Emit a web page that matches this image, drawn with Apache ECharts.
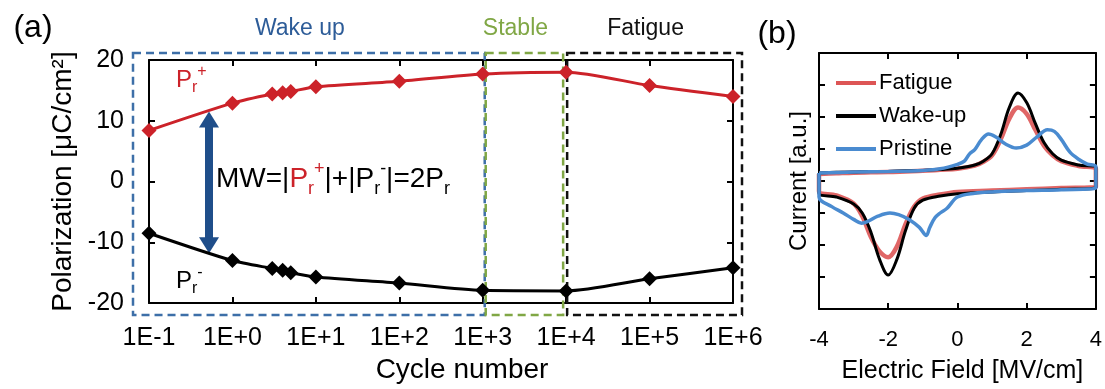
<!DOCTYPE html>
<html><head><meta charset="utf-8">
<script src="https://cdn.jsdelivr.net/npm/echarts@6/dist/echarts.min.js"></script>
<style>html,body{margin:0;padding:0;background:#fff}#c{width:1105px;height:389px}</style>
</head><body><div id="c"></div>
<script>
// ---------- Panel (a) data ----------
const cycles  = [0.1, 1, 3, 4, 5, 10, 100, 1000, 10000, 100000, 1000000];
const prPlus  = [8.4, 12.9, 14.4, 14.6, 14.8, 15.6, 16.5, 17.7, 18.0, 15.8, 14.0];
const prMinus = [-8.5, -13.0, -14.3, -14.6, -15.0, -15.7, -16.7, -17.9, -18.0, -16.0, -14.2];
const phaseNames = ['Wake up', 'Stable', 'Fatigue'];
const phaseStart = [0.1, 1e3, 1e4];
const phaseEnd   = [1e3, 1e4, 1e6];
const arrowCycle = 0.524;
const arrowTop = 10.2;
const arrowBottom = -10.5;

// ---------- Panel (b) data ----------
const wakeE = [-4,-3.5,-3,-2.5,-2,-1.5,-1,-0.5,0,0.5,0.75,1,1.25,1.5,1.75,2,2.25,2.5,2.75,3,3.5,4,
               4,3,2,1,0,-0.5,-1,-1.25,-1.5,-1.75,-2,-2.25,-2.5,-2.75,-3,-3.5,-4,-4];
const wakeI = [0.25,0.27,0.28,0.3,0.3,0.32,0.33,0.36,0.4,0.5,0.62,0.85,1.45,2.3,2.75,2.45,1.8,1.2,0.85,0.65,0.5,0.42,
               -0.2,-0.26,-0.3,-0.34,-0.4,-0.47,-0.6,-0.85,-1.55,-2.45,-2.94,-2.45,-1.6,-1.0,-0.72,-0.5,-0.38,0.25];
const fatigueE = [-4,-3.5,-3,-2.5,-2,-1.5,-1,-0.5,0,0.5,0.75,1,1.25,1.5,1.75,2,2.25,2.5,2.75,3,3.5,4,
                  4,3,2,1,0,-0.5,-1,-1.25,-1.5,-1.75,-2,-2.25,-2.5,-2.75,-3,-3.5,-4,-4];
const fatigueI = [0.22,0.24,0.26,0.27,0.28,0.3,0.32,0.35,0.38,0.48,0.6,0.8,1.3,1.95,2.3,2.1,1.6,1.1,0.8,0.62,0.47,0.38,
                  -0.18,-0.22,-0.26,-0.3,-0.34,-0.42,-0.55,-0.8,-1.35,-2.05,-2.38,-2.2,-1.75,-1.1,-0.7,-0.45,-0.32,0.22];
const pristineE = [-4,-3,-2,-1,-0.5,0,0.2,0.35,0.5,0.7,0.9,1.1,1.4,1.7,2.0,2.3,2.6,2.8,3.0,3.25,3.5,3.75,4,
                   4,3,2,1,0.5,0,-0.3,-0.5,-0.65,-0.8,-0.9,-1.1,-1.4,-1.7,-1.95,-2.3,-2.6,-2.77,-3.0,-3.3,-3.63,-4,-4];
const pristineI = [0.25,0.28,0.3,0.33,0.38,0.52,0.62,0.85,0.98,1.3,1.47,1.38,1.15,1.03,1.12,1.38,1.6,1.55,1.3,0.9,0.68,0.53,0.45,
                   -0.22,-0.27,-0.3,-0.34,-0.38,-0.5,-0.85,-1.0,-1.15,-1.45,-1.7,-1.45,-1.2,-1.05,-1.0,-1.1,-1.27,-1.32,-1.2,-1.0,-0.8,-0.5,0.25];

// ---------- styling ----------
const FONT = '"Liberation Sans", Arial, sans-serif';
const RED = '#cc2229', BLACK = '#000', BLUE_ARROW = '#1f4e8a';
const C_FAT = '#dd5555', C_WAKE = '#000000', C_PRI = '#4a8bd0';
const boxColors = ['#3d6fa8', '#80a745', '#111111'];
const boxTextColors = ['#2d5c98', '#80a745', '#111111'];
const boxPadL = [16, -3, -1], boxPadR = [2, -3, 9];

const lg = v => Math.log10(v);
const pair = (xs, ys) => xs.map((x, i) => [x, ys[i]]);

function frameAxis(extra) {
  return Object.assign({
    axisLine: { show: true, onZero: false, lineStyle: { color: '#000', width: 2 } },
    axisTick: { show: true, inside: true, length: 6, lineStyle: { color: '#000', width: 2 } },
    splitLine: { show: false },
    axisLabel: { show: false }
  }, extra);
}
const tickLabel = (size, margin, fmt) => ({ show: true, color: '#000', fontSize: size, fontFamily: FONT, margin: margin, formatter: fmt });

const option = {
  animation: false,
  backgroundColor: '#fff',
  textStyle: { fontFamily: FONT },
  grid: [
    { left: 149, top: 60, width: 584, height: 249 },
    { left: 819, top: 53, width: 280, height: 256 }
  ],
  xAxis: [
    frameAxis({ gridIndex: 0, type: 'value', position: 'bottom', min: -1, max: 6, interval: 1,
      axisLabel: tickLabel(25, 23, v => '1E' + (v < 0 ? '-' : '+') + Math.abs(Math.round(v))),
      name: 'Cycle number', nameLocation: 'middle', nameGap: 52,
      nameTextStyle: { fontSize: 28, color: '#000', fontFamily: FONT, padding: [0, 0, 0, 42] } }),
    frameAxis({ gridIndex: 0, type: 'value', position: 'top', min: -1, max: 6, interval: 1 }),
    frameAxis({ gridIndex: 1, type: 'value', position: 'bottom', min: -4, max: 4, interval: 2,
      axisLabel: tickLabel(22, 20, v => String(v)),
      name: 'Electric Field [MV/cm]', nameLocation: 'middle', nameGap: 50,
      nameTextStyle: { fontSize: 25, color: '#000', fontFamily: FONT, padding: [0, 0, 0, 10] } }),
    frameAxis({ gridIndex: 1, type: 'value', position: 'top', min: -4, max: 4, interval: 2 })
  ],
  yAxis: [
    frameAxis({ gridIndex: 0, type: 'value', position: 'left', min: -20, max: 20, interval: 10,
      axisLabel: tickLabel(25, 25, v => String(v)),
      name: 'Polarization [μC/cm²]', nameLocation: 'middle', nameGap: 66,
      nameTextStyle: { fontSize: 28, color: '#000', fontFamily: FONT } }),
    frameAxis({ gridIndex: 0, type: 'value', position: 'right', min: -20, max: 20, interval: 10 }),
    frameAxis({ gridIndex: 1, type: 'value', position: 'left', min: -4, max: 4, interval: 1,
      name: 'Current [a.u.]', nameLocation: 'middle', nameGap: 8,
      nameTextStyle: { fontSize: 24, color: '#000', fontFamily: FONT } }),
    frameAxis({ gridIndex: 1, type: 'value', position: 'right', min: -4, max: 4, interval: 1 })
  ],
  legend: {
    data: ['Fatigue', 'Wake-up', 'Pristine'],
    orient: 'vertical', left: 831, top: 67, itemGap: 11,
    itemWidth: 40, itemHeight: 4, icon: 'rect',
    textStyle: { fontSize: 22, color: '#000', fontFamily: FONT, padding: [0, 0, 0, -2] }
  },
  series: [
    { type: 'line', xAxisIndex: 0, yAxisIndex: 0, data: pair(cycles.map(lg), prPlus),
      symbol: 'diamond', symbolSize: 15, smooth: 0.25, z: 5,
      lineStyle: { color: RED, width: 3 }, itemStyle: { color: RED },
      markLine: { silent: true, symbol: ['triangle', 'triangle'], symbolSize: [20, 16],
        label: { show: false }, lineStyle: { color: BLUE_ARROW, width: 8, type: 'solid' },
        itemStyle: { color: BLUE_ARROW },
        data: [[{ coord: [lg(arrowCycle), arrowTop] }, { coord: [lg(arrowCycle), arrowBottom] }]] } },
    { type: 'line', xAxisIndex: 0, yAxisIndex: 0, data: pair(cycles.map(lg), prMinus),
      symbol: 'diamond', symbolSize: 15, smooth: 0.25, z: 5,
      lineStyle: { color: BLACK, width: 3 }, itemStyle: { color: BLACK } },
    { name: 'Fatigue', type: 'line', xAxisIndex: 2, yAxisIndex: 2, data: pair(fatigueE, fatigueI),
      showSymbol: false, smooth: 0.35, lineStyle: { color: C_FAT, width: 4.5, opacity: 0.9 }, itemStyle: { color: C_FAT } },
    { name: 'Wake-up', type: 'line', xAxisIndex: 2, yAxisIndex: 2, data: pair(wakeE, wakeI),
      showSymbol: false, smooth: 0.35, lineStyle: { color: C_WAKE, width: 3 }, itemStyle: { color: C_WAKE } },
    { name: 'Pristine', type: 'line', xAxisIndex: 2, yAxisIndex: 2, data: pair(pristineE, pristineI),
      showSymbol: false, smooth: 0.35, lineStyle: { color: C_PRI, width: 3.5 }, itemStyle: { color: C_PRI } }
  ]
};

const chart = echarts.init(document.getElementById('c'), null, { renderer: 'canvas' });
chart.setOption(option);

// ---------- annotations, positioned through the axes ----------
const toPx = (c, v) => chart.convertToPixel({ xAxisIndex: 0, yAxisIndex: 0 }, [lg(c), v]);
const graphics = [];
const yTop = toPx(0.1, 20)[1] - 7, yBot = toPx(0.1, -20)[1] + 12;
phaseNames.forEach((name, i) => {
  const x0 = toPx(phaseStart[i], 0)[0] - boxPadL[i];
  const x1 = toPx(phaseEnd[i], 0)[0] + boxPadR[i];
  graphics.push({ type: 'rect', silent: true, z: 1,
    shape: { x: x0, y: yTop, width: x1 - x0, height: yBot - yTop },
    style: { fill: 'none', stroke: boxColors[i], lineWidth: 2.5, lineDash: [8, 5] } });
  graphics.push({ type: 'text', silent: true, z: 10,
    style: { x: (x0 + x1) / 2 - 9, y: 29, text: name, fill: boxTextColors[i],
      font: '23px ' + FONT, textAlign: 'center', textVerticalAlign: 'middle', verticalAlign: 'middle' } });
});
const sub = (c, s) => ({ fontSize: s, fontFamily: FONT, fill: c, color: c, verticalAlign: 'bottom', lineHeight: s });
const sup = (c, s) => ({ fontSize: s, fontFamily: FONT, fill: c, color: c, verticalAlign: 'top', lineHeight: s });
const big = (c, s, lh) => ({ fontSize: s, fontFamily: FONT, fill: c, color: c, lineHeight: lh });

graphics.push({ type: 'text', silent: true, z: 10,
  style: { x: 176, y: 80, text: '{P|P}{s|r}{u|+}', fill: RED, verticalAlign: 'middle', textVerticalAlign: 'middle',
    rich: { P: big(RED, 24, 32), s: sub(RED, 16), u: sup(RED, 16) } } });
graphics.push({ type: 'text', silent: true, z: 10,
  style: { x: 176, y: 281, text: '{P|P}{s|r}{u|-}', fill: BLACK, verticalAlign: 'middle', textVerticalAlign: 'middle',
    rich: { P: big(BLACK, 24, 32), s: sub(BLACK, 16), u: sup(BLACK, 16) } } });
graphics.push({ type: 'text', silent: true, z: 10,
  style: { x: 216, y: 179, fill: BLACK, verticalAlign: 'middle', textVerticalAlign: 'middle',
    text: '{a|MW=|}{rP|P}{rs|r}{ru|+}{a||+|P}{s|r}{u|-}{a||=2P}{s|r}',
    rich: { a: big(BLACK, 28, 38), rP: big(RED, 28, 38), rs: sub(RED, 18), ru: sup(RED, 18),
            s: sub(BLACK, 18), u: sup(BLACK, 18) } } });
graphics.push({ type: 'text', silent: true, z: 10,
  style: { x: 33, y: 28, text: '(a)', fill: '#000', font: '32px ' + FONT, textAlign: 'center', verticalAlign: 'middle', textVerticalAlign: 'middle' } });
graphics.push({ type: 'text', silent: true, z: 10,
  style: { x: 777, y: 34, text: '(b)', fill: '#000', font: '32px ' + FONT, textAlign: 'center', verticalAlign: 'middle', textVerticalAlign: 'middle' } });

chart.setOption({ graphic: graphics });
</script>
</body></html>
